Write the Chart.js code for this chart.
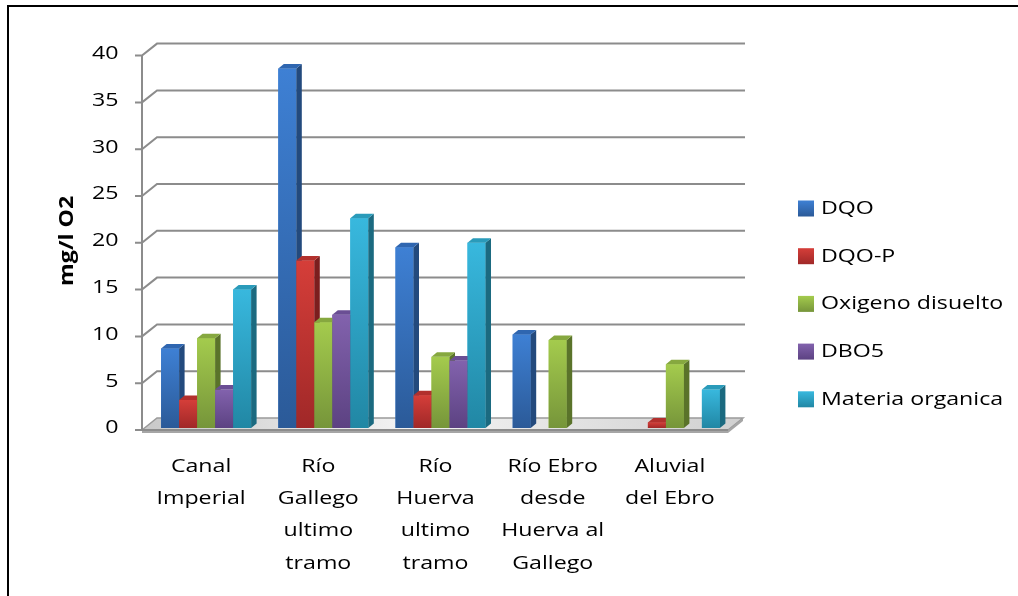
<!DOCTYPE html>
<html>
<head>
<meta charset="utf-8">
<script src="https://cdn.jsdelivr.net/npm/chart.js@4.4.1/dist/chart.umd.min.js"></script>
<style>
  html, body { margin: 0; padding: 0; background: #ffffff; }
  #wrap { position: relative; width: 1018px; height: 596px; }
</style>
</head>
<body>
<div id="wrap"><canvas id="chart" width="1018" height="596"></canvas></div>
<script>
// Chart data
const categories = [
  ["Canal", "Imperial"],
  ["Río", "Gallego", "ultimo", "tramo"],
  ["Río", "Huerva", "ultimo", "tramo"],
  ["Río Ebro", "desde", "Huerva al", "Gallego"],
  ["Aluvial", "del Ebro"]
];
const seriesNames = ["DQO", "DQO-P", "Oxigeno disuelto", "DBO5", "Materia organica"];
const dqo      = [8.5, 38.4, 19.3, 10.0, null];
const dqoP     = [3.0, 17.9, 3.5, null, 0.6];
const oxigeno  = [9.6, 11.3, 7.6, 9.4, 6.8];
const dbo5     = [4.1, 12.1, 7.2, null, null];
const materia  = [14.8, 22.4, 19.8, null, 4.1];
const yTicks   = [0, 5, 10, 15, 20, 25, 30, 35, 40];
const yTitle   = "mg/l O2";

// Excel-like 3D shading: front top, front bottom, side, top face
const palettes = [
  { front: ["#3e80d4", "#2b5a98"], side: "#234a7d", top: "#2f66b0" },
  { front: ["#d53e39", "#a02828"], side: "#7b1e1e", top: "#b2302d" },
  { front: ["#a4cb4d", "#76953a"], side: "#5a732a", top: "#86a83f" },
  { front: ["#8262ad", "#5c4282"], side: "#493367", top: "#6a4e94" },
  { front: ["#38b8de", "#2187a4"], side: "#1b6a80", top: "#2a9bba" }
];

const FONT = "'Open Sans', sans-serif";
const FONT_SIZE = 19;
const TEXT_STRETCH = 1.22;   // the original's text is wide for its height

// Geometry of the fake 3D box (pixels)
const FRONT_DX = -5.5, FRONT_DY = 2;   // front axis plane relative to bar plane
const WALL_DX = 15, WALL_DY = -12;     // back wall relative to front plane
const BAR_DX = 5.5, BAR_DY = -4.5;     // bar depth

const seriesValues = [dqo, dqoP, oxigeno, dbo5, materia];

// Widen every text run along its own baseline
const wideTextPlugin = {
  id: "wideText",
  beforeInit(chart) {
    const rawFill = CanvasRenderingContext2D.prototype.fillText;
    chart.ctx.fillText = function (text, x, y) {
      this.save();
      this.translate(x, y);
      this.scale(TEXT_STRETCH, 1);
      rawFill.call(this, text, 0, 0);
      this.restore();
    };
  }
};

// Back wall, gridlines, floor and y axis line
const wallPlugin = {
  id: "wall",
  beforeDraw(chart) {
    const ctx = chart.ctx;
    ctx.save();
    ctx.fillStyle = "#ffffff";
    ctx.fillRect(0, 0, chart.width, chart.height);
    ctx.strokeStyle = "#000000";
    ctx.lineWidth = 2;
    ctx.strokeRect(8, 6, chart.width + 20, chart.height + 20);
    ctx.restore();
  },
  beforeDatasetsDraw(chart) {
    const { ctx, chartArea: a, scales: { y } } = chart;
    const fx = a.left + FRONT_DX;
    const fr = a.right + FRONT_DX;
    const y0 = y.getPixelForValue(0) + FRONT_DY;
    const yTop = y.getPixelForValue(yTicks[yTicks.length - 1]) + FRONT_DY;
    ctx.save();

    // floor slab
    const fg = ctx.createLinearGradient(fx, y0, fr + WALL_DX, y0 + WALL_DY);
    fg.addColorStop(0, "#c8c8c8");
    fg.addColorStop(0.45, "#f4f4f4");
    fg.addColorStop(1, "#d0d0d0");
    ctx.fillStyle = fg;
    ctx.beginPath();
    ctx.moveTo(fx, y0);
    ctx.lineTo(fx + WALL_DX, y0 + WALL_DY);
    ctx.lineTo(fr + WALL_DX, y0 + WALL_DY);
    ctx.lineTo(fr, y0);
    ctx.closePath();
    ctx.fill();
    ctx.strokeStyle = "#9a9a9a";
    ctx.lineWidth = 1.5;
    ctx.stroke();
    ctx.fillStyle = "#a6a6a6";
    ctx.fillRect(fx, y0, fr - fx, 3);
    ctx.beginPath();
    ctx.moveTo(fr, y0);
    ctx.lineTo(fr + WALL_DX, y0 + WALL_DY);
    ctx.lineTo(fr + WALL_DX, y0 + WALL_DY + 3);
    ctx.lineTo(fr, y0 + 3);
    ctx.closePath();
    ctx.fill();

    // gridlines on the back wall + diagonal connectors + tick marks
    ctx.strokeStyle = "#8c8c8c";
    ctx.lineWidth = 2;
    yTicks.forEach(v => {
      const py = y.getPixelForValue(v) + FRONT_DY;
      ctx.beginPath();
      ctx.moveTo(fx - 7, py);
      ctx.lineTo(fx, py);
      if (v > 0) {
        ctx.lineTo(fx + WALL_DX, py + WALL_DY);
        ctx.lineTo(fr + WALL_DX + 2, py + WALL_DY);
      } else {
        ctx.lineTo(fr, py);
      }
      ctx.stroke();
    });

    // front y axis line
    ctx.beginPath();
    ctx.moveTo(fx, yTop);
    ctx.lineTo(fx, y0);
    ctx.stroke();
    ctx.restore();
  },
  // repaint the bars as shaded 3D columns, left to right inside each group
  afterDatasetsDraw(chart) {
    const ctx = chart.ctx;
    ctx.save();
    chart.data.datasets.forEach((ds, di) => {
      const meta = chart.getDatasetMeta(di);
      const pal = palettes[di];
      meta.data.forEach((bar, i) => {
        if (ds.data[i] === null || ds.data[i] === undefined) return;
        const { x, y: top, base, width } = bar.getProps(["x", "y", "base", "width"], true);
        const l = x - width / 2, r = x + width / 2;

        const g = ctx.createLinearGradient(0, top, 0, base);
        g.addColorStop(0, pal.front[0]);
        g.addColorStop(1, pal.front[1]);
        ctx.fillStyle = g;
        ctx.fillRect(l, top, width, base - top);

        ctx.fillStyle = pal.side;
        ctx.beginPath();
        ctx.moveTo(r, top);
        ctx.lineTo(r + BAR_DX, top + BAR_DY);
        ctx.lineTo(r + BAR_DX, base + BAR_DY);
        ctx.lineTo(r, base);
        ctx.closePath();
        ctx.fill();

        ctx.fillStyle = pal.top;
        ctx.beginPath();
        ctx.moveTo(l, top);
        ctx.lineTo(l + BAR_DX, top + BAR_DY);
        ctx.lineTo(r + BAR_DX, top + BAR_DY);
        ctx.lineTo(r, top);
        ctx.closePath();
        ctx.fill();
      });
    });
    ctx.restore();
  }
};

// Legend on the right, drawn like Excel's
const legendPlugin = {
  id: "sideLegend",
  afterDraw(chart) {
    const ctx = chart.ctx;
    const lx = 798, ly = 208.5, step = 47.7, box = 16;
    ctx.save();
    ctx.font = FONT_SIZE + "px " + FONT;
    ctx.textBaseline = "middle";
    ctx.textAlign = "left";
    seriesNames.forEach((name, i) => {
      const cy = ly + i * step;
      const g = ctx.createLinearGradient(0, cy - box / 2, 0, cy + box / 2);
      g.addColorStop(0, palettes[i].front[0]);
      g.addColorStop(1, palettes[i].front[1]);
      ctx.fillStyle = g;
      ctx.fillRect(lx, cy - box / 2, box, box);
      ctx.fillStyle = "#000000";
      ctx.fillText(name, lx + 23, cy);
    });
    ctx.restore();
  }
};

const datasets = seriesNames.map((name, i) => ({
  label: name,
  data: seriesValues[i],
  backgroundColor: palettes[i].front[0],
  borderWidth: 0,
  categoryPercentage: 0.768,
  barPercentage: 1.0,
  clip: false
}));

new Chart(document.getElementById("chart"), {
  type: "bar",
  data: { labels: categories, datasets: datasets },
  options: {
    responsive: false,
    animation: false,
    devicePixelRatio: 1,
    layout: {
      padding: { left: 7, right: 1018 - 733.5, top: 53.6, bottom: 0 }
    },
    plugins: {
      legend: { display: false },
      tooltip: { enabled: false }
    },
    scales: {
      x: {
        grid: { display: false },
        border: { display: false },
        ticks: {
          color: "#000000",
          font: { family: FONT, size: FONT_SIZE, lineHeight: 32.4 / FONT_SIZE },
          padding: 14,
          labelOffset: -5,
          maxRotation: 0,
          autoSkip: false
        },
        afterFit(scale) { scale.height = 168; }
      },
      y: {
        min: 0,
        max: 40,
        grid: { display: false },
        border: { display: false },
        ticks: {
          stepSize: 5,
          color: "#000000",
          font: { family: FONT, size: FONT_SIZE },
          padding: 21
        },
        title: {
          display: true,
          text: yTitle,
          color: "#000000",
          font: { family: FONT, size: FONT_SIZE, weight: "bold" },
          padding: { top: 49, bottom: 0 }
        },
        afterFit(scale) { scale.width = 140.5; }
      }
    }
  },
  plugins: [wideTextPlugin, wallPlugin, legendPlugin]
});
</script>
</body>
</html>
